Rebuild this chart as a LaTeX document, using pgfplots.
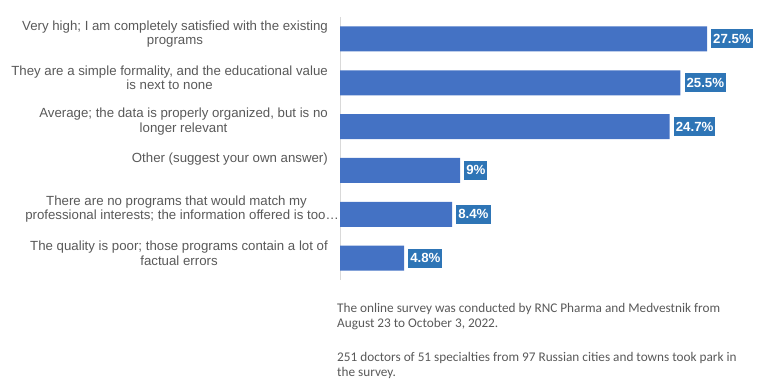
\documentclass[border=0pt]{standalone}
\usepackage{pgfplots}
\pgfplotsset{compat=1.18}
\usepackage{fontspec}
\setmainfont{Liberation Sans}
\newfontfamily\carlito{Carlito}
\definecolor{barblue}{HTML}{4472C4}
\definecolor{lblblue}{HTML}{2E75B6}
\definecolor{txtgray}{HTML}{595959}
\definecolor{axgray}{HTML}{D9D9D9}
\begin{document}
\begin{tikzpicture}[x=1bp,y=1bp]
\path[use as bounding box] (0,0) rectangle (763,382);
\begin{axis}[
  at={(340bp,102bp)}, anchor=south west,
  width=420bp, height=263bp, scale only axis,
  xmin=0, xmax=31.47, ymin=-0.5, ymax=5.5, y dir=reverse,
  axis x line=none, axis y line*=left,
  y axis line style={draw=axgray, line width=0.75bp},
  ytick={0,1,2,3,4,5},
  yticklabels={
    {Very high; I am completely satisfied with the existing\\programs},
    {They are a simple formality, and the educational value\\is next to none},
    {Average; the data is properly organized, but is no\\longer relevant},
    {Other (suggest your own answer)\\\mbox{}},
    {There are no programs that would match my\\professional interests; the information offered is too…\hspace*{-11bp}},
    {The quality is poor; those programs contain a lot of\\factual errors}},
  major tick length=0pt,
  yticklabel style={align=center, anchor=east, font=\fontsize{13.3}{14.5}\selectfont, text=txtgray, inner sep=0pt, xshift=-12bp, yshift=5bp},
  xbar, bar width=25bp,
  point meta=x,
  /pgf/number format/assume math mode=true,
  nodes near coords={\pgfmathprintnumber[fixed,precision=1,assume math mode=true]{\pgfplotspointmeta}\%},
  nodes near coords style={anchor=west, fill=lblblue, text=white, font=\bfseries\fontsize{13.3}{14}\selectfont, inner xsep=2bp, inner ysep=0pt, minimum height=19bp, xshift=4bp},
]
\addplot[fill=barblue, draw=none] coordinates {(27.5,0) (25.5,1) (24.7,2) (9,3) (8.4,4) (4.8,5)};
\end{axis}
\begin{scope}[every node/.style={anchor=base west, inner sep=0pt, text=txtgray, font=\carlito\fontsize{13.3}{16}\selectfont}]
\node at (337,69.5) {The online survey was conducted by RNC Pharma and Medvestnik from};
\node at (337,54.5) {August 23 to October 3, 2022.};
\node at (337,21) {251 doctors of 51 specialties from 97 Russian cities and towns took park in};
\node at (337,6) {the survey.};
\end{scope}
\end{tikzpicture}
\end{document}
